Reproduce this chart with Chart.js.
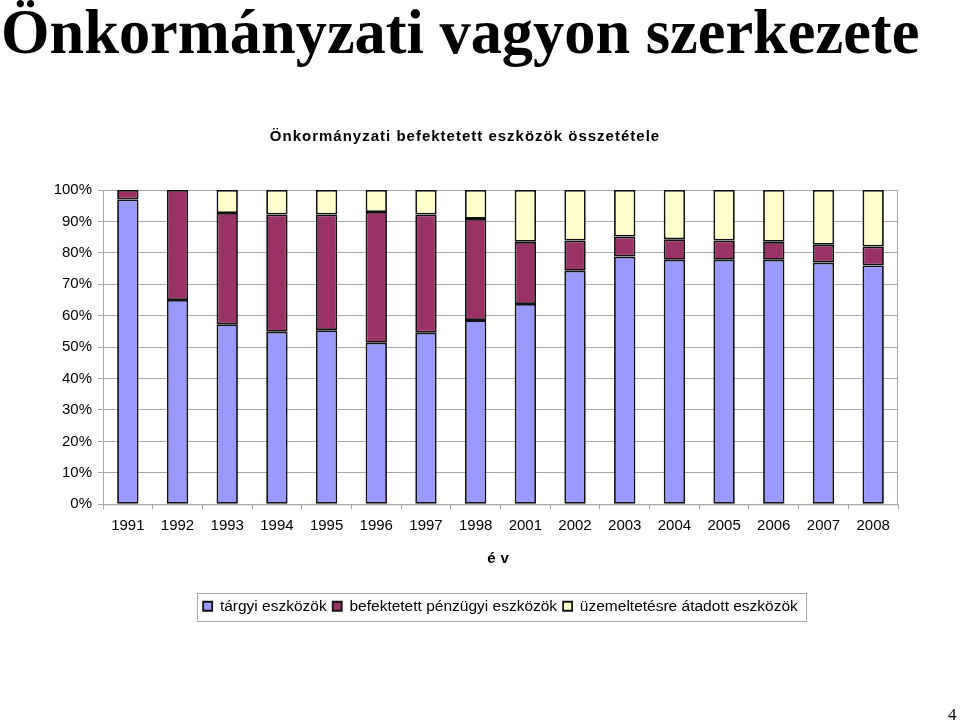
<!DOCTYPE html>
<html>
<head>
<meta charset="utf-8">
<script src="https://cdn.jsdelivr.net/npm/chart.js@4.4.0/dist/chart.umd.min.js"></script>
<style>
	body { margin: 0; background: #fff; }
	#page { position: relative; width: 960px; height: 722px; overflow: hidden; }
	#wrap { position: absolute; left: 0; top: 0; width: 960px; height: 722px; }
	#head {
		position: absolute; left: 1px; top: 1px; margin: 0;
		font-family: "Liberation Serif", "Times New Roman", serif;
		font-weight: bold; font-size: 62.4px; line-height: 1; white-space: nowrap;
	}
	#num {
		position: absolute; left: 948px; top: 706px;
		font-family: "Liberation Serif", "Times New Roman", serif;
		font-size: 17px; line-height: 1;
	}
</style>
</head>
<body>
<div id="page">
	<div id="wrap"><canvas id="chart"></canvas></div>
	<h1 id="head">Önkormányzati vagyon szerkezete</h1>
	<div id="num">4</div>
</div>
<script>
const years = ['1991', '1992', '1993', '1994', '1995', '1996', '1997', '1998',
	'2001', '2002', '2003', '2004', '2005', '2006', '2007', '2008'];
// shares in %
const targyi = [97.0, 65.0, 57.3, 54.9, 55.4, 51.4, 54.6, 58.6, 63.7, 74.3, 78.8, 77.8, 77.8, 77.8, 76.9, 76.0];
const befektetett = [3.0, 35.0, 35.4, 37.3, 36.8, 41.6, 37.6, 32.2, 19.8, 9.6, 6.4, 6.5, 6.1, 5.7, 5.7, 6.0];
const uzemeltetes = [0, 0, 7.3, 7.8, 7.8, 7.0, 7.8, 9.2, 16.5, 16.1, 14.8, 15.7, 16.1, 16.5, 17.4, 18.0];
const yTicks = [0, 10, 20, 30, 40, 50, 60, 70, 80, 90, 100];

Chart.defaults.font.family = '"Liberation Sans", Arial, sans-serif';
Chart.defaults.color = '#000';

const gridGray = '#a8a8a8';

// frame round the plot area + box round the legend, and letter spacing like the old export
const extras = {
	id: 'extras',
	afterLayout(chart) {
		const t = chart.titleBlock;
		if (t && !t._spaced) {
			const d = t.draw.bind(t);
			t.draw = function () { const c = this.ctx; c.save(); c.letterSpacing = '1px'; d(); c.restore(); };
			t._spaced = true;
		}
		const x = chart.scales.x;
		if (x && !x._spaced) {
			const dt = x.drawTitle.bind(x);
			x.drawTitle = function () { const c = this.ctx; c.save(); c.letterSpacing = '5px'; dt(); c.restore(); };
			x._spaced = true;
		}
	},
	beforeDatasetsDraw(chart) {
		const {ctx, chartArea: a} = chart;
		ctx.save();
		ctx.strokeStyle = gridGray;
		ctx.lineWidth = 1;
		ctx.strokeRect(a.left + 0.5, a.top + 0.5, a.right - a.left - 1, a.bottom - a.top);
		ctx.restore();
	},
	afterDraw(chart) {
		const lg = chart.legend;
		if (!lg || !lg.legendHitBoxes || !lg.legendHitBoxes.length) return;
		let l = Infinity, r = -Infinity;
		lg.legendHitBoxes.forEach(b => { l = Math.min(l, b.left); r = Math.max(r, b.left + b.width); });
		const ctx = chart.ctx;
		ctx.save();
		ctx.strokeStyle = '#a8a8a8';
		ctx.lineWidth = 1;
		ctx.strokeRect(Math.round(l - 6) + 0.5, Math.round(lg.top) + 0.5, Math.round(r - l + 14), 28);
		ctx.restore();
	}
};

new Chart(document.getElementById('chart'), {
	type: 'bar',
	data: {
		labels: years,
		datasets: [{
			label: 'tárgyi eszközök',
			data: targyi,
			backgroundColor: '#9999ff',
			borderColor: '#111',
			borderWidth: 1.8,
			borderSkipped: false
		}, {
			label: 'befektetett pénzügyi eszközök',
			data: befektetett,
			backgroundColor: '#993366',
			borderColor: '#111',
			borderWidth: 1.8,
			borderSkipped: false
		}, {
			label: 'üzemeltetésre átadott eszközök',
			data: uzemeltetes,
			backgroundColor: '#ffffcc',
			borderColor: '#111',
			borderWidth: 1.8,
			borderSkipped: false
		}]
	},
	options: {
		responsive: true,
		maintainAspectRatio: false,
		animation: false,
		barPercentage: 0.43,
		categoryPercentage: 1,
		layout: {
			padding: { top: 120, left: 32, right: 62, bottom: 98 }
		},
		scales: {
			x: {
				stacked: true,
				afterFit: s => { s.height = 88.25; },
				grid: {
					offset: true,
					drawOnChartArea: false,
					tickLength: 5,
					color: gridGray
				},
				border: { color: gridGray },
				ticks: {
					padding: 8,
					maxRotation: 0,
					autoSkip: false,
					font: { size: 15 }
				},
				title: {
					display: true,
					text: 'év',
					font: { size: 15, weight: 'bold' },
					padding: { top: 4, bottom: 25 }
				}
			},
			y: {
				stacked: true,
				min: 0,
				max: 100,
				afterFit: s => { s.width = 71; },
				afterBuildTicks: s => { s.ticks = yTicks.map(v => ({ value: v })); },
				grid: {
					color: gridGray,
					tickLength: 5
				},
				border: { color: gridGray },
				ticks: {
					padding: 6,
					font: { size: 15 },
					callback: v => v + '%'
				}
			}
		},
		plugins: {
			title: {
				display: true,
				text: 'Önkormányzati befektetett eszközök összetétele',
				font: { size: 15, weight: 'bold' },
				padding: { top: 8, bottom: 44 }
			},
			legend: {
				position: 'bottom',
				fullSize: false,
				labels: {
					boxWidth: 9,
					boxHeight: 9,
					padding: 6,
					font: { size: 15.5 }
				}
			},
			tooltip: { enabled: false }
		}
	},
	plugins: [extras]
});
</script>
</body>
</html>
